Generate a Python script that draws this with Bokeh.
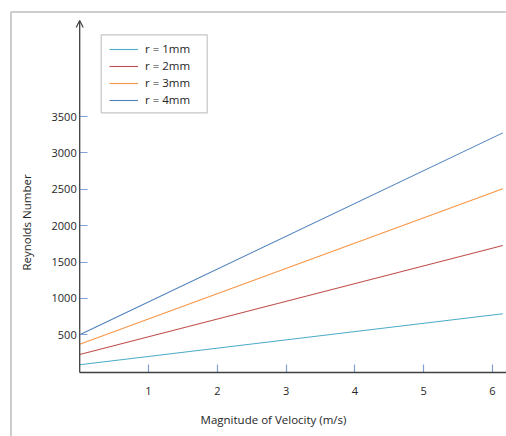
from math import pi
from bokeh.plotting import figure
from bokeh.models import (Range1d, FixedTicker, Legend, LegendItem, Label,
                          BoxAnnotation, Arrow, OpenHead)
from bokeh.embed import file_html
from bokeh.resources import INLINE

# ---- data ----
velocity = [0, 6.15]
re_1mm = [88, 789]
re_2mm = [229, 1727]
re_3mm = [371, 2506]
re_4mm = [500, 3275]
series_labels = ["r = 1mm", "r = 2mm", "r = 3mm", "r = 4mm"]
series_colors = ["#4BACC6", "#C0504D", "#F79646", "#4F81BD"]
x_ticks = [1, 2, 3, 4, 5, 6]
y_ticks = [500, 1000, 1500, 2000, 2500, 3000, 3500]
x_title = "Magnitude of Velocity (m/s)"
y_title = "Reynolds Number"

FONT = "Open Sans"
AXIS_COLOR = "#404040"
TICK_COLOR = "#7FA3D6"
TEXT_COLOR = "#262626"

W, H = 506, 436
X0_PX, X_SCALE = 79.2, 68.8      # pixel of x=0, pixels per unit
Y0_PX, Y_SCALE = 370.7, 0.07277  # pixel of y=0, pixels per unit
X_AXIS_AT = -18                  # data y where the x axis line sits
Y_TOP = (Y0_PX - 20) / Y_SCALE   # top of the y axis arrow

p = figure(width=W, height=H,
           x_range=Range1d(-X0_PX / X_SCALE, (W - X0_PX) / X_SCALE),
           y_range=Range1d((Y0_PX - H) / Y_SCALE, Y0_PX / Y_SCALE),
           min_border=0, min_border_left=0, min_border_right=0,
           min_border_top=0, min_border_bottom=0,
           output_backend="svg", toolbar_location=None)
p.outline_line_color = None
p.grid.visible = False
p.background_fill_color = "white"
p.border_fill_color = "white"

p.xaxis.fixed_location = X_AXIS_AT
p.yaxis.fixed_location = 0
for ax, ticks in ((p.xaxis, x_ticks), (p.yaxis, y_ticks)):
    ax.ticker = FixedTicker(ticks=ticks)
    ax.minor_tick_line_color = None
    ax.major_tick_in = 8
    ax.major_tick_out = 0
    ax.major_tick_line_color = TICK_COLOR
    ax.major_tick_line_width = 1.2
    ax.axis_line_color = None
    ax.major_label_text_font = FONT
    ax.major_label_text_font_size = "11px"
    ax.major_label_text_color = TEXT_COLOR
p.xaxis.major_label_standoff = 14
p.yaxis.major_label_standoff = 3

# axis lines
p.add_layout(Arrow(end=None, x_start=0, y_start=X_AXIS_AT,
                   x_end=(W - X0_PX) / X_SCALE + 1, y_end=X_AXIS_AT,
                   line_color=AXIS_COLOR, line_width=1.3))
p.add_layout(Arrow(end=OpenHead(size=7, line_color=AXIS_COLOR, line_width=1.2),
                   x_start=0, y_start=X_AXIS_AT, x_end=0, y_end=Y_TOP,
                   line_color=AXIS_COLOR, line_width=1.3))

series = [re_1mm, re_2mm, re_3mm, re_4mm]
items = []
for lab, col, ys in zip(series_labels, series_colors, series):
    r = p.line(velocity, ys, line_color=col, line_width=1.1)
    items.append(LegendItem(label=lab, renderers=[r]))

legend = Legend(items=items, location=(109, 329),
                padding=5, spacing=2, glyph_width=29, glyph_height=12,
                label_height=12, label_standoff=7,
                label_text_font=FONT, label_text_font_size="11.5px",
                label_text_color=TEXT_COLOR,
                border_line_color=None, background_fill_alpha=0)
p.add_layout(legend)

# legend frame
p.add_layout(BoxAnnotation(left=100.7, right=206.7, top=H - 34.3, bottom=H - 112.3,
                           left_units="screen", right_units="screen",
                           top_units="screen", bottom_units="screen",
                           fill_alpha=0, line_color=AXIS_COLOR, line_width=1.2))

# outer chart border (right and bottom sides lie beyond the picture)
p.add_layout(BoxAnnotation(left=10.5, right=W + 50, top=H - 11.5, bottom=-50,
                           left_units="screen", right_units="screen",
                           top_units="screen", bottom_units="screen",
                           fill_alpha=0, line_color="#5A5A5A", line_width=2))

# axis titles
p.add_layout(Label(x=273, y=H - 419, x_units="screen", y_units="screen",
                   text=x_title, text_align="center", text_baseline="middle",
                   text_font=FONT, text_font_size="11.5px", text_color=TEXT_COLOR))
p.add_layout(Label(x=26, y=H - 222, x_units="screen", y_units="screen",
                   text=y_title, angle=pi / 2, text_align="center",
                   text_baseline="middle",
                   text_font=FONT, text_font_size="11.5px", text_color=TEXT_COLOR))

open("out.html", "w").write(file_html(p, INLINE))
